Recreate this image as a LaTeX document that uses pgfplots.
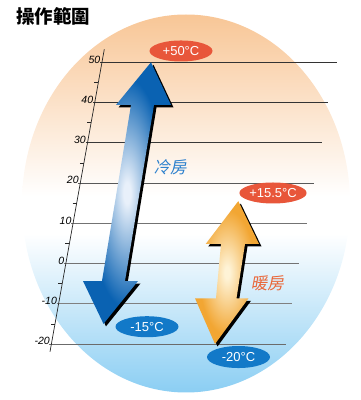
\documentclass[border=0pt]{standalone}
\usepackage{pgfplots}
\pgfplotsset{compat=1.18}
\usepackage{pgfplotstable}
\usepackage{fontspec}
\setmainfont{Liberation Sans}
\newfontfamily\cjk{Noto Sans CJK TC}
\newfontfamily\cjksl{Noto Sans CJK TC}[FakeSlant=0.18]
\usetikzlibrary{shapes.geometric}

\definecolor{bgpeach}{HTML}{F8C696}
\definecolor{bgblue}{HTML}{8BCEF3}
\definecolor{bluedark}{HTML}{0A62B2}
\definecolor{bluelight}{HTML}{E8F0FA}
\definecolor{orgdark}{HTML}{F2A633}
\definecolor{orglight}{HTML}{FEF3D6}
\definecolor{lblred}{HTML}{E8563A}
\definecolor{lblblue}{HTML}{1279C8}
\definecolor{txtblue}{HTML}{2B80CD}
\definecolor{txtorg}{HTML}{EA6638}

\pgfdeclareverticalshading{bgshade}{100bp}{color(0bp)=(bgblue); color(25bp)=(bgblue); color(46bp)=(white); color(51bp)=(white); color(75bp)=(bgpeach); color(100bp)=(bgpeach)}
\pgfdeclareradialshading{blueglow}{\pgfpoint{0bp}{0bp}}{color(0bp)=(bluelight); color(2bp)=(bluelight); color(22bp)=(bluedark); color(50bp)=(bluedark)}
\pgfdeclareradialshading{orgglow}{\pgfpoint{0bp}{0bp}}{color(0bp)=(orglight); color(2bp)=(orglight); color(22bp)=(orgdark); color(50bp)=(orgdark)}

% cooling range arrow: -15 to +50 C
\pgfplotstableread{
x y
151 50
171 39.4
154 39.4
125 -4.35
138 -4.35
103.5 -15
83 -4.35
102 -4.35
131 39.4
116 39.4
151 50
}\coolarrow

% heating range arrow: -20 to +15.5 C
\pgfplotstableread{
x y
238.3 15.5
259 4.85
245 4.85
236.5 -8.65
248.5 -8.65
215 -20
195 -8.65
216 -8.65
221 4.85
205.7 4.85
238.3 15.5
}\heatarrow

\begin{document}
\begin{tikzpicture}
\begin{axis}[
  width=360pt, height=400pt, scale only axis,
  xmin=0, xmax=360, ymin=-33.92, ymax=65.48,
  hide axis, clip=false,
]
\path (rel axis cs:0,0) rectangle (rel axis cs:1,1);
% background
\path[shade, shading=bgshade] (axis cs:186,14.91) ellipse [x radius=164pt, y radius=189pt];

% grid lines
\addplot[black!80, line width=0.75pt] coordinates {(100,50) (337,50)};
\addplot[black!80, line width=0.75pt] coordinates {(92.8,40) (328,40)};
\addplot[black!78, line width=0.75pt] coordinates {(85.5,30) (322,30)};
\addplot[black!65, line width=0.75pt] coordinates {(78.3,20) (314,20)};
\addplot[black!55, line width=0.75pt] coordinates {(71.1,10) (307,10)};
\addplot[black!55, line width=0.75pt] coordinates {(63.8,0) (299,0)};
\addplot[black!50, line width=0.75pt] coordinates {(56.6,-10) (292,-10)};
\addplot[black!58, line width=0.75pt] coordinates {(49.4,-20) (286,-20)};

% slanted axis
\addplot[black!85, line width=0.7pt] coordinates {(104.3,53.23) (50,-21.92)};
% minor ticks
\addplot[black!85, line width=0.6pt] coordinates {(94.3,45) (98.35,45)};
\addplot[black!85, line width=0.6pt] coordinates {(87.1,35) (91.1,35)};
\addplot[black!85, line width=0.6pt] coordinates {(79.9,25) (83.9,25)};
\addplot[black!85, line width=0.6pt] coordinates {(72.7,15) (76.7,15)};
\addplot[black!85, line width=0.6pt] coordinates {(65.4,5) (69.4,5)};
\addplot[black!85, line width=0.6pt] coordinates {(58.2,-5) (62.2,-5)};
\addplot[black!85, line width=0.6pt] coordinates {(51.0,-15) (55.0,-15)};

% tick labels
\begin{scope}[every node/.style={anchor=east, inner sep=0pt, font=\fontsize{10.5}{11}\selectfont\itshape}]
\node at (axis cs:100.5,50.7) {50};
\node at (axis cs:93.3,40.7) {40};
\node at (axis cs:86.0,30.7) {30};
\node at (axis cs:78.8,20.7) {20};
\node at (axis cs:71.6,10.7) {10};
\node at (axis cs:64.3,0.7) {0};
\node at (axis cs:57.1,-9.3) {-10};
\node at (axis cs:49.9,-19.3) {-20};
\end{scope}

% arrows with shadows
\addplot[fill=black, draw=none, xshift=2.5pt, yshift=-2.5pt] table {\coolarrow};
\addplot[draw=none, shade, shading=blueglow] table {\coolarrow};
\addplot[fill=black, draw=none, xshift=2.5pt, yshift=-2.5pt] table {\heatarrow};
\addplot[draw=none, shade, shading=orgglow] table {\heatarrow};

% labels
\begin{scope}[every node/.style={ellipse, inner sep=0pt, minimum width=63pt, minimum height=21pt, text=white, font=\fontsize{13}{13}\selectfont}]
\node[fill=lblred] at (axis cs:181,52.81) {+50°C};
\node[fill=lblred] at (axis cs:273,17.52) {+15.5°C};
\node[fill=lblblue] at (axis cs:147,-15.71) {-15°C};
\node[fill=lblblue, minimum height=22pt] at (axis cs:238.5,-23.24) {-20°C};
\end{scope}

\node[text=txtblue, font=\cjksl\fontsize{16.5}{17}\selectfont] at (axis cs:170,23.98) {冷房};
\node[text=txtorg, font=\cjksl\fontsize{16.5}{17}\selectfont] at (axis cs:267.5,-4.85) {暖房};

\node[anchor=west, inner sep=0pt, font=\cjk\bfseries\fontsize{18.5}{19}\selectfont] at (axis cs:16,61.5) {操作範圍};
\end{axis}
\end{tikzpicture}
\end{document}
